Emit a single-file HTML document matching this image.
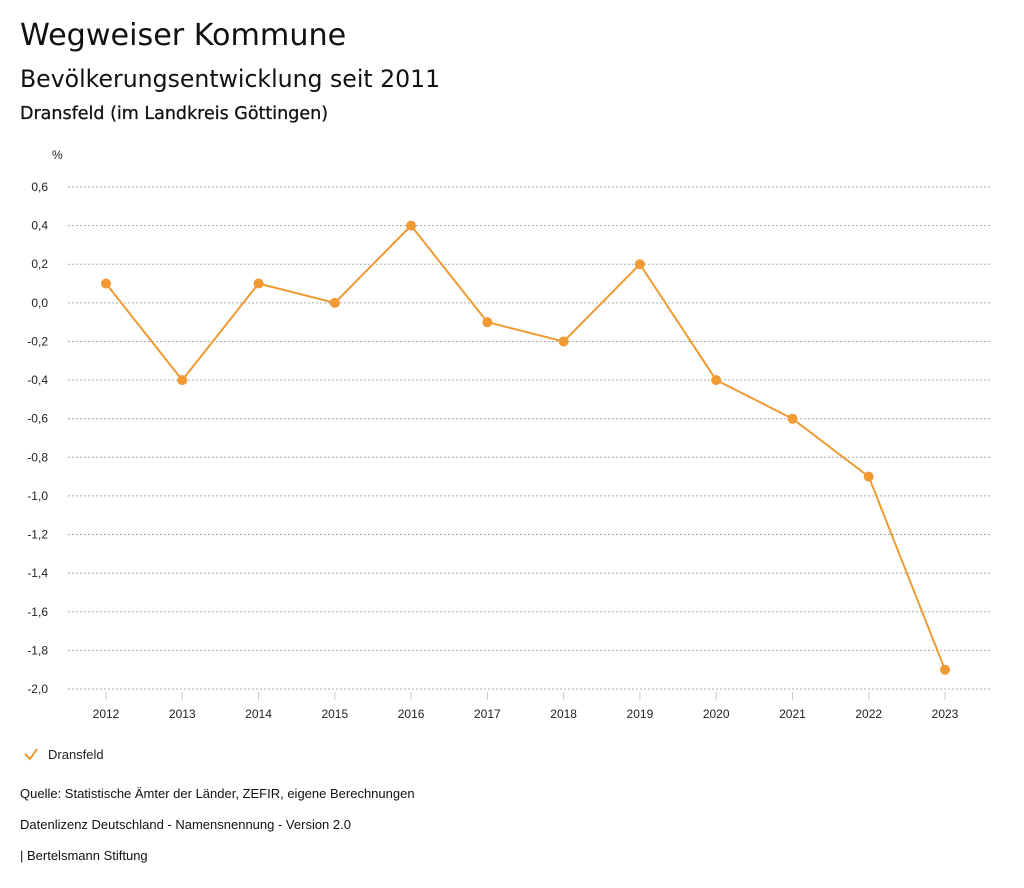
<!DOCTYPE html>
<html><head><meta charset="utf-8"><style>
body{margin:0;width:1024px;height:888px;background:#fff;font-family:"Liberation Sans",sans-serif;color:#111;overflow:hidden}
.t{position:absolute;left:20px;white-space:nowrap}
</style></head><body>
<div class="t" style="top:18px;font-size:30.2px;font-family:'DejaVu Sans',sans-serif">Wegweiser Kommune</div>
<div class="t" style="top:65px;font-size:23.6px;font-family:'DejaVu Sans',sans-serif">Bevölkerungsentwicklung seit 2011</div>
<div class="t" style="top:104px;font-size:17.5px;-webkit-text-stroke:0.3px #111;font-family:'DejaVu Sans',sans-serif">Dransfeld (im Landkreis Göttingen)</div>
<svg id="chart" width="1024" height="888" style="position:absolute;left:0;top:0"></svg>
<div class="t" style="top:786px;font-size:13px">Quelle: Statistische Ämter der Länder, ZEFIR, eigene Berechnungen</div>
<div class="t" style="top:817px;font-size:13px">Datenlizenz Deutschland - Namensnennung - Version 2.0</div>
<div class="t" style="top:848px;font-size:13px">| Bertelsmann Stiftung</div>
<script>
const categories=["2012","2013","2014","2015","2016","2017","2018","2019","2020","2021","2022","2023"];
const values=[0.1,-0.4,0.1,0.0,0.4,-0.1,-0.2,0.2,-0.4,-0.6,-0.9,-1.9];
const yTicks=[0.6,0.4,0.2,0.0,-0.2,-0.4,-0.6,-0.8,-1.0,-1.2,-1.4,-1.6,-1.8,-2.0];
const svg=document.getElementById('chart');const NS='http://www.w3.org/2000/svg';
function y(v){return 187+(0.6-v)/2.6*502;}
function x(i){return 106+i*(839/11);}
function mk(t,a,p){const e=document.createElementNS(NS,t);for(const k in a)e.setAttribute(k,a[k]);(p||svg).appendChild(e);return e;}
let u=mk('text',{x:52,y:159,'font-size':12,fill:'#222'});u.textContent='%';


yTicks.forEach(v=>{
 const l=mk('line',{x1:68,x2:990,y1:y(v),y2:y(v),stroke:'#aaa','stroke-dasharray':'2,2'});
 
 
 const t=mk('text',{x:48,y:y(v)+4,'text-anchor':'end','font-size':12,fill:'#222'});
 t.textContent=v.toFixed(1).replace('.',',');
 
 
});
categories.forEach((c,i)=>{
 const l=mk('line',{x1:x(i),x2:x(i),y1:692,y2:700,stroke:'#ccc'});
 
 
 const t=mk('text',{x:x(i),y:718,'text-anchor':'middle','font-size':12,fill:'#222'});
 t.textContent=c;
 
 
});
const pl=mk('polyline',{points:values.map((v,i)=>x(i)+','+y(v)).join(' '),fill:'none',stroke:'#ef9a33','stroke-width':2});


values.forEach((v,i)=>{
 const c=mk('circle',{cx:x(i),cy:y(v),r:5,fill:'#ef9a33'});
 
 
});
const lg=mk('g',{});


mk('polyline',{points:'25,754 30,759 37,749',fill:'none',stroke:'#ef9a33','stroke-width':2},lg);
const lt=mk('text',{x:48,y:759,'font-size':13,fill:'#222'},lg);lt.textContent='Dransfeld';
</script>
</body></html>
